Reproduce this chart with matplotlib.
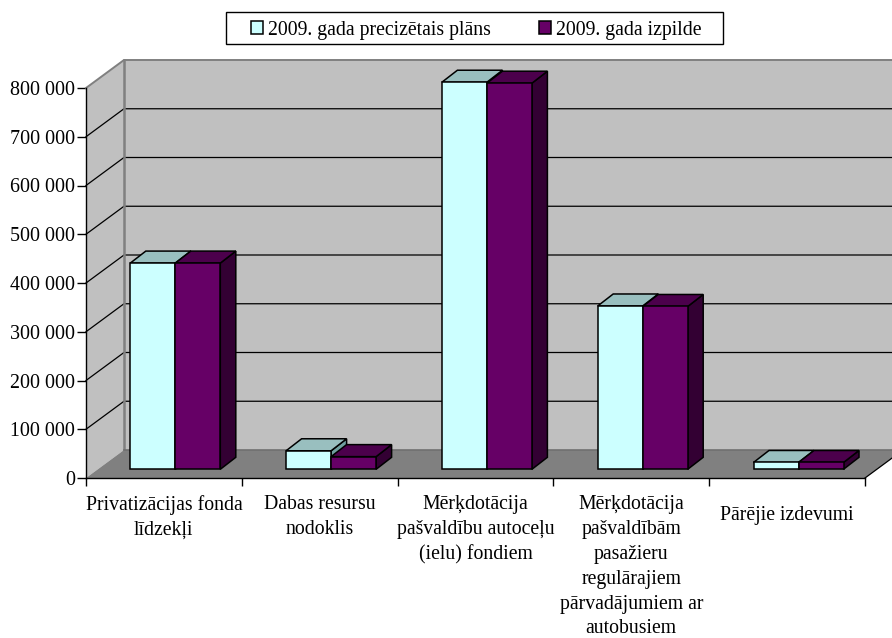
import matplotlib
matplotlib.use('Agg')
import matplotlib.pyplot as plt
from matplotlib.patches import Patch, Rectangle
from matplotlib.transforms import blended_transform_factory

plt.rcParams['font.family'] = ['Liberation Serif', 'DejaVu Serif']

# Data
categories = [
    'Privatizācijas fonda\nlīdzekļi',
    'Dabas resursu\nnodoklis',
    'Mērķdotācija\npašvaldību autoceļu\n(ielu) fondiem',
    'Mērķdotācija\npašvaldībām\npasažieru\nregulārajiem\npārvadājumiem ar\nautobusiem',
    'Pārējie izdevumi',
]
plan = [423000, 38000, 794000, 335000, 14000]
actual = [423000, 26000, 792000, 334000, 14000]
series_names = ['2009. gada precizētais plāns', '2009. gada izpilde']
y_ticks = [0, 100000, 200000, 300000, 400000, 500000, 600000, 700000, 800000]
y_tick_labels = ['0', '100 000', '200 000', '300 000', '400 000',
                 '500 000', '600 000', '700 000', '800 000']

# Fake 3D depth, in data units (1 category = 155.8 px, 100 000 = 48.75 px)
wall_dx = 38 / 155.8
wall_dy = 28 / 48.75 * 100000
bar_off_x = 11.4 / 155.8
bar_off_y = 8.7 / 48.75 * 100000
bar_dx = 15.5 / 155.8
bar_dy = 12 / 48.75 * 100000
bar_w = 45 / 155.8

W, H = 892, 638
fig = plt.figure(figsize=(W / 100, H / 100), dpi=100, facecolor='white')
ax = fig.add_axes([86 / W, 1 - 478 / H, 779 / W, 390 / H])
n = len(categories)
ax.set_xlim(0, n)
ax.set_ylim(0, 800000)
ax.patch.set_visible(False)

top = y_ticks[-1]

# walls and floor
ax.fill([0, 0, wall_dx, wall_dx], [0, top, top + wall_dy, wall_dy],
        color='#C0C0C0', lw=0, clip_on=False, zorder=1)
ax.fill([wall_dx, wall_dx, n + wall_dx, n + wall_dx],
        [wall_dy, top + wall_dy, top + wall_dy, wall_dy],
        color='#C0C0C0', lw=0, clip_on=False, zorder=1)
ax.fill([0, n, n + wall_dx, wall_dx], [0, 0, wall_dy, wall_dy],
        color='#808080', lw=0, clip_on=False, zorder=1)

# grid lines across side wall and back wall
for t in y_ticks[1:-1]:
    ax.plot([0, wall_dx, n + wall_dx], [t, t + wall_dy, t + wall_dy],
            color='black', lw=0.9, clip_on=False, zorder=2)
gray = '#808080'
ax.plot([0, wall_dx, n + wall_dx], [top, top + wall_dy, top + wall_dy],
        color=gray, lw=1.4, clip_on=False, zorder=2)
ax.plot([wall_dx, wall_dx], [wall_dy, top + wall_dy], color=gray, lw=1.8,
        clip_on=False, zorder=2)
ax.plot([wall_dx, n + wall_dx], [wall_dy, wall_dy], color='#707070', lw=1.2,
        clip_on=False, zorder=2)
ax.plot([n, n + wall_dx], [0, wall_dy], color='black', lw=0.9,
        clip_on=False, zorder=2)


def draw_series(values, left_shift, front, side, roof, z):
    for i, v in enumerate(values):
        x0 = i + 0.5 + bar_off_x + left_shift
        x1 = x0 + bar_w
        y0 = bar_off_y
        y1 = y0 + v
        ax.fill([x1, x1 + bar_dx, x1 + bar_dx, x1],
                [y0, y0 + bar_dy, y1 + bar_dy, y1],
                facecolor=side, edgecolor='black', lw=1.1, clip_on=False, zorder=z)
        ax.fill([x0, x1, x1 + bar_dx, x0 + bar_dx],
                [y1, y1, y1 + bar_dy, y1 + bar_dy],
                facecolor=roof, edgecolor='black', lw=1.1, clip_on=False, zorder=z)
        ax.bar(x0, v, bar_w, bottom=y0, align='edge', color=front,
               edgecolor='black', lw=1.1, clip_on=False, zorder=z + 0.1)


draw_series(plan, -bar_w, '#CCFFFF', '#6F9F9F', '#99BFBF', 3)
draw_series(actual, 0, '#660066', '#330033', '#4C004C', 4)

# axes
for s in ['top', 'right']:
    ax.spines[s].set_visible(False)
ax.spines['left'].set_zorder(5)
ax.spines['bottom'].set_zorder(5)
ax.spines['left'].set_linewidth(1)
ax.spines['bottom'].set_linewidth(1)
ax.set_yticks(y_ticks)
ax.set_yticklabels(y_tick_labels, fontsize=14.4)
ax.tick_params(axis='y', length=6.5, width=1, pad=1.5)
ax.set_xticks(range(n + 1))
ax.set_xticklabels([])
ax.tick_params(axis='x', length=6, width=1)

# category labels, last one sits a bit lower in the source
label_y = [495, 495, 495, 495, 506]
trans = blended_transform_factory(ax.transData, fig.transFigure)
for i, lab in enumerate(categories):
    ax.text(i + 0.5, 1 - label_y[i] / H, lab, transform=trans,
            ha='center', va='top', fontsize=14.2, linespacing=1.42, clip_on=False)

# legend frame is wider than the legend's own padding allows
fig.add_artist(Rectangle((226 / W, 1 - 44 / H), 497 / W, 32 / H, transform=fig.transFigure,
                         facecolor='white', edgecolor='black', lw=1))
handles = [Patch(facecolor='#CCFFFF', edgecolor='black', lw=1.1, label=series_names[0]),
           Patch(facecolor='#660066', edgecolor='black', lw=1.1, label=series_names[1])]
fig.legend(handles=handles, loc='center', bbox_to_anchor=(476.5 / W, 1 - 30 / H),
           ncol=2, frameon=False, fontsize=14.2, handlelength=0.62, handleheight=0.62,
           handletextpad=0.25, columnspacing=2.43, borderpad=0, borderaxespad=0)

fig.savefig('out.png', dpi=100, facecolor='white')
